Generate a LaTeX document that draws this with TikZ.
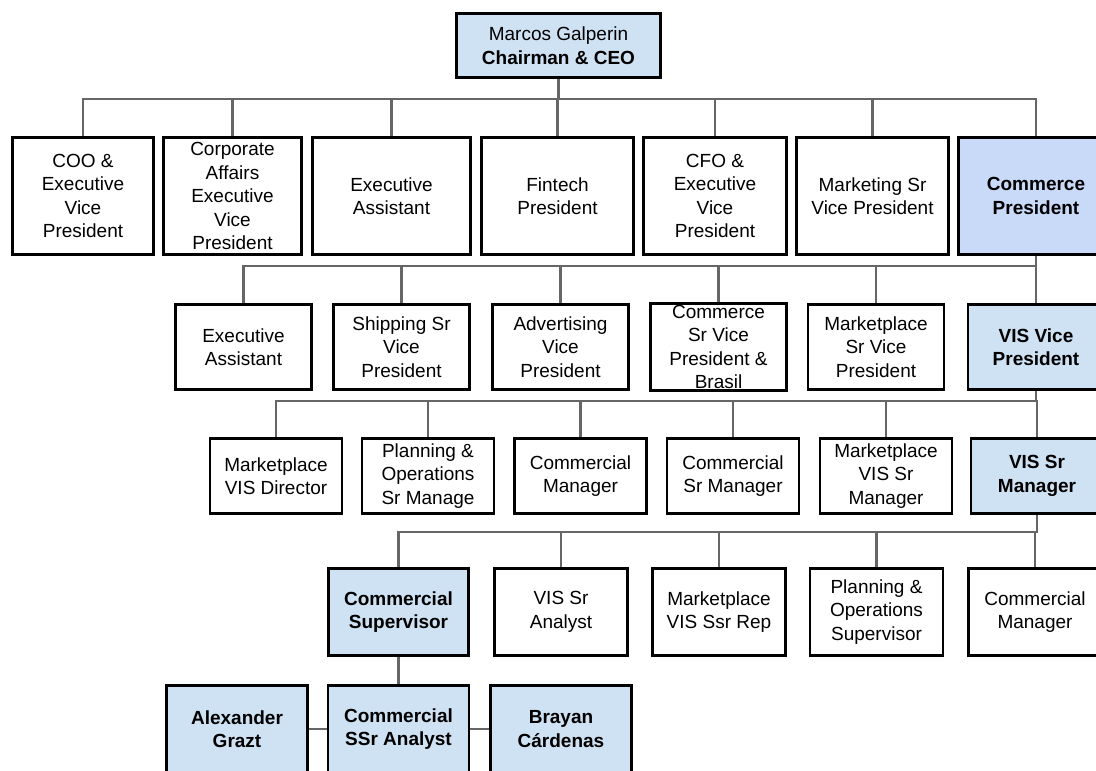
\documentclass[tikz,border=0pt]{standalone}
\usepackage{fontspec}
\setmainfont{Liberation Sans}
\usepackage{tikz}
\usetikzlibrary{positioning}
\usepackage{xcolor}
\definecolor{OrgBlue}{HTML}{CFE2F3}
\definecolor{CommerceBlue}{HTML}{C9DAF8}
\definecolor{LinkGray}{HTML}{666666}

\tikzset{
  box/.style={draw=black, line width=2.2pt, fill=white, align=center, inner sep=1pt,
    font=\fontsize{14.25}{17.6}\selectfont},
  hibox/.style={box, fill=OrgBlue, font=\fontsize{14.25}{17.6}\selectfont\bfseries},
  link/.style={draw=LinkGray, line width=2pt}
}

\begin{document}
\begin{tikzpicture}[x=0.75pt, y=-0.75pt]
            \useasboundingbox (0,0) rectangle (1096,771);
            \clip (0,0) rectangle (1096,771);
            \coordinate (bus1) at (0,99);
            \coordinate (bus2) at (0,266);
            \coordinate (bus3) at (0,401);
            \coordinate (bus4) at (0,532);
            \node[box, fill=OrgBlue, minimum width=204*0.75pt, minimum height=64*0.75pt] (ceo) at (558.5,45.5) {Marcos Galperin\\\textbf{Chairman \& CEO}};
            \foreach \name/\x/\w/\txt in {coo/83/141/{COO \&\\Executive\\Vice\\President}, corp/232.5/138/{Corporate\\Affairs\\Executive\\Vice\\President}, execa/391.5/158/{Executive\\Assistant}, fintech/557.5/152/{Fintech\\President}, cfo/715/143/{CFO \&\\Executive\\Vice\\President}, mkt/872.5/152/{Marketing Sr\\Vice President}} {
                \node[box, minimum width=\w*0.75pt, minimum height=117*0.75pt] (\name) at (\x,196) {\txt};
            }
            \node[hibox, fill=CommerceBlue, minimum width=155*0.75pt, minimum height=117*0.75pt] (commerce) at (1036,196) {Commerce\\President};
            \foreach \name/\x/\txt in {execb/243.5/{Executive\\Assistant}, ship/401.5/{Shipping Sr\\Vice\\President}, adv/560.5/{Advertising\\Vice\\President}, comsvp/718.5/{Commerce\\Sr Vice\\President \&\\Brasil}, mpsvp/876/{Marketplace\\Sr Vice\\President}} {
                \node[box, minimum width=136*0.75pt, minimum height=85*0.75pt] (\name) at (\x,347) {\txt};
            }
            \node[hibox, minimum width=136*0.75pt, minimum height=85*0.75pt] (visvp) at (1036,347) {VIS Vice\\President};
            \foreach \name/\x/\txt in {mpdir/276/{Marketplace\\VIS Director}, plansr/428/{Planning \&\\Operations\\Sr Manage}, cmgra/580.5/{Commercial\\Manager}, csrmgr/733/{Commercial\\Sr Manager}, mpsrmgr/886/{Marketplace\\VIS Sr\\Manager}} {
                \node[box, minimum width=132*0.75pt, minimum height=75*0.75pt] (\name) at (\x,476) {\txt};
            }
            \node[hibox, minimum width=132*0.75pt, minimum height=75*0.75pt] (vissrmgr) at (1037,476) {VIS Sr\\Manager};
            \node[hibox, minimum width=140*0.75pt, minimum height=87*0.75pt] (csup) at (398.5,612) {Commercial\\Supervisor};
            \foreach \name/\x/\txt in {visan/561/{VIS Sr\\Analyst}, ssrrep/719/{Marketplace\\VIS Ssr Rep}, plansup/876.5/{Planning \&\\Operations\\Supervisor}, cmgrb/1035/{Commercial\\Manager}} {
                \node[box, minimum width=133*0.75pt, minimum height=87*0.75pt] (\name) at (\x,612) {\txt};
            }
            \node[hibox, minimum width=141*0.75pt, minimum height=87*0.75pt] (alex) at (237,729) {Alexander\\Grazt};
            \node[hibox, minimum width=141*0.75pt, minimum height=87*0.75pt] (ssran) at (398.5,729) {Commercial\\SSr Analyst};
            \node[hibox, minimum width=141*0.75pt, minimum height=87*0.75pt] (brayan) at (561,729) {Brayan\\Cárdenas};
            \foreach \c in {coo,corp,execa,fintech,cfo,mkt,commerce} {
                \draw[link] (ceo.south) -- (ceo.south |- bus1) -| (\c.north);
            }
            \foreach \c in {execb,ship,adv,comsvp,mpsvp,visvp} {
                \draw[link] (commerce.south) -- (commerce.south |- bus2) -| (\c.north);
            }
            \foreach \c in {mpdir,plansr,cmgra,csrmgr,mpsrmgr,vissrmgr} {
                \draw[link] (visvp.south) -- (visvp.south |- bus3) -| (\c.north);
            }
            \foreach \c in {csup,visan,plansup,cmgrb} {
                \draw[link] (vissrmgr.south) -- (vissrmgr.south |- bus4) -| (\c.north);
            }
            \draw[LinkGray, line width=0.8pt] (ssrrep.north) -- (ssrrep.north |- bus4);
            \draw[link] (csup.south) -- (ssran.north);
            \draw[link] (alex.east) -- (ssran.west);
            \draw[link] (ssran.east) -- (brayan.west);
        \end{tikzpicture}
\end{document}
